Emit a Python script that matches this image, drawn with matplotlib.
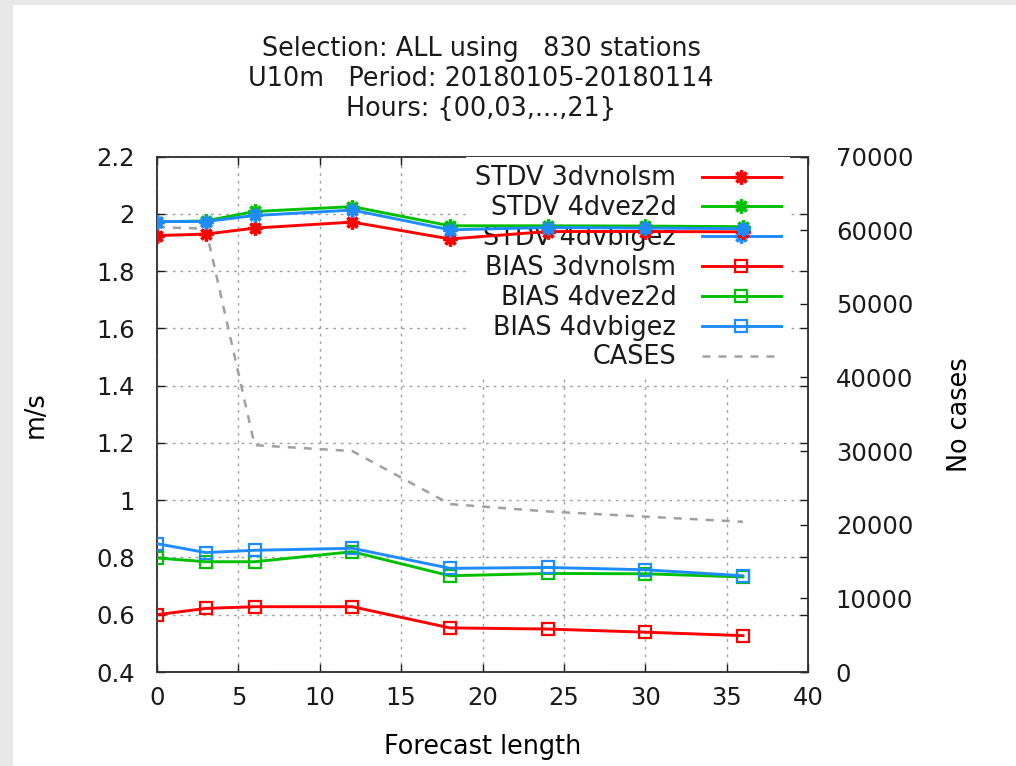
import matplotlib
matplotlib.use("Agg")
import matplotlib.pyplot as plt
from matplotlib.patches import Rectangle
from matplotlib.ticker import FuncFormatter, MultipleLocator

# forecast lengths (h) and scores
hours = [0, 3, 6, 12, 18, 24, 30, 36]

stdv_3dvnolsm = [1.924, 1.929, 1.950, 1.971, 1.912, 1.938, 1.938, 1.937]
stdv_4dvez2d = [1.972, 1.975, 2.008, 2.025, 1.958, 1.958, 1.957, 1.955]
stdv_4dvbigez = [1.973, 1.973, 1.994, 2.013, 1.944, 1.952, 1.950, 1.948]

bias_3dvnolsm = [0.600, 0.622, 0.628, 0.628, 0.554, 0.550, 0.539, 0.527]
bias_4dvez2d = [0.798, 0.785, 0.785, 0.820, 0.736, 0.744, 0.743, 0.732]
bias_4dvbigez = [0.848, 0.817, 0.825, 0.832, 0.762, 0.765, 0.757, 0.736]

cases = [60400, 60200, 30800, 30000, 22800, 21800, 21100, 20400]

RED = "#ff0000"
GREEN = "#00c000"
BLUE = "#1e8cff"
GRAY = "#a0a0a0"
TXT = "#1a1a1a"
LABEL_SIZE = 18.4

plt.rcParams["font.family"] = ["DejaVu Sans"]
plt.rcParams["font.size"] = 17.5
plt.rcParams["text.color"] = TXT

W, H = 1016, 766
fig = plt.figure(figsize=(W / 100, H / 100), dpi=100)

# light gray frame strips on the left and top
fig.patches.append(Rectangle((0, 0), 13 / W, 1, transform=fig.transFigure,
                             facecolor="#e8e8e8", edgecolor="none", zorder=-1))
fig.patches.append(Rectangle((0, 1 - 5 / H), 1, 5 / H, transform=fig.transFigure,
                             facecolor="#e8e8e8", edgecolor="none", zorder=-1))

x0, x1, y0, y1 = 157, 808, 156.5, 672
ax = fig.add_axes([x0 / W, 1 - y1 / H, (x1 - x0) / W, (y1 - y0) / H])
ax2 = ax.twinx()
ax.set_zorder(ax2.get_zorder() + 1)
ax.patch.set_visible(False)

star = (8, 2, 0)
lw = 2.1
sk = dict(lw=lw, marker=star, ms=10, mew=2.4, zorder=3)
bk = dict(lw=lw, marker="s", ms=8.5, mew=1.6, mfc="none", zorder=3)
h1, = ax.plot(hours, stdv_3dvnolsm, color=RED, label="STDV 3dvnolsm", **sk)
h2, = ax.plot(hours, stdv_4dvez2d, color=GREEN, label="STDV 4dvez2d", **sk)
h3, = ax.plot(hours, stdv_4dvbigez, color=BLUE, label="STDV 4dvbigez", **sk)
h4, = ax.plot(hours, bias_3dvnolsm, color=RED, label="BIAS 3dvnolsm", **bk)
h5, = ax.plot(hours, bias_4dvez2d, color=GREEN, label="BIAS 4dvez2d", **bk)
h6, = ax.plot(hours, bias_4dvbigez, color=BLUE, label="BIAS 4dvbigez", **bk)
h7, = ax2.plot(hours, cases, color=GRAY, lw=1.8, ls=(0, (3.2, 3.2)), label="CASES")

ax.set_xlim(0, 40)
ax.set_ylim(0.4, 2.2)
ax2.set_ylim(0, 70000)
ax.xaxis.set_major_locator(MultipleLocator(5))
ax.yaxis.set_major_locator(MultipleLocator(0.2))
ax.yaxis.set_major_formatter(FuncFormatter(lambda v, p: f"{v:g}"))
ax2.yaxis.set_major_locator(MultipleLocator(10000))

ax.grid(True, color=GRAY, lw=1.0, ls=(0, (2, 3.5)))
ax.tick_params(direction="in", length=6, width=1, top=True, right=True, colors=TXT)
ax.tick_params(axis="y", pad=16)
ax.tick_params(axis="x", pad=10)
ax2.tick_params(direction="in", length=6, width=1, pad=20, colors=TXT)
for a in (ax, ax2):
    for s in a.spines.values():
        s.set_color("#333333")
        s.set_linewidth(1.1)

ax.set_xlabel("Forecast length", fontsize=LABEL_SIZE, labelpad=17)
ax.set_ylabel("m/s", fontsize=LABEL_SIZE, labelpad=34)
ax2.set_ylabel("No cases", fontsize=LABEL_SIZE, labelpad=24)

leg = ax.legend(handles=[h1, h2, h3, h4, h5, h6, h7], loc="upper right",
                bbox_to_anchor=((790 - x0) / (x1 - x0), 1.0), borderaxespad=0,
                markerfirst=False, numpoints=1, handlelength=3.1, handletextpad=1.0,
                labelspacing=0.15, borderpad=0.35, frameon=True, fancybox=False,
                facecolor="white", edgecolor="none", framealpha=1,
                fontsize=LABEL_SIZE)
leg.set_zorder(2.5)

fig.text(481 / W, 1 - 79 / H,
         "Selection: ALL using   830 stations\nU10m   Period: 20180105-20180114\nHours: {00,03,...,21}",
         ha="center", va="center", multialignment="center", linespacing=1.22,
         fontsize=LABEL_SIZE)

fig.savefig("out.png", dpi=100)
